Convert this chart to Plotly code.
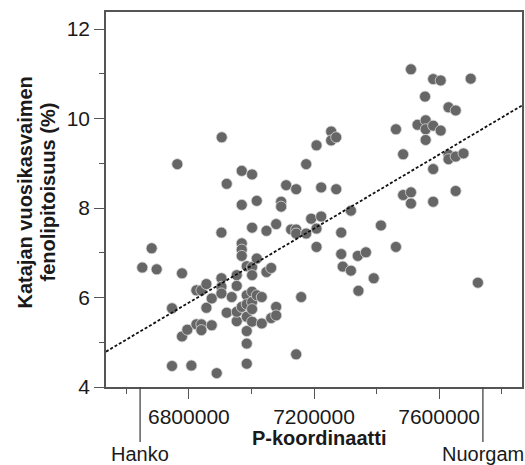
import plotly.graph_objects as go

# ---- data ----
p_coord = [
    6651000, 6681000, 6697000, 6763000, 6778000, 6746000, 6746000, 6778000, 6795000, 6808000,
    6824000, 6840000, 6824000, 6840000, 6840000, 6856000, 6856000, 6873000, 6873000, 6889000,
    6905000, 6904000, 6904000, 6904000, 6904000, 6921000, 6921000, 6937000, 6953000, 6953000,
    6953000, 6953000, 6969000, 6969000, 6969000, 6969000, 6969000, 6969000, 6985000, 6985000,
    6985000, 6985000, 6985000, 6985000, 6985000, 7002000, 7002000, 7002000, 7002000, 7002000,
    7002000, 7002000, 7002000, 7017000, 7017000, 7017000, 7033000, 7033000, 7048000, 7048000,
    7063000, 7063000, 7079000, 7079000, 7079000, 7095000, 7095000, 7111000, 7127000, 7143000,
    7143000, 7143000, 7143000, 7159000, 7175000, 7175000, 7191000, 7208000, 7208000, 7208000,
    7223000, 7223000, 7255000, 7255000, 7271000, 7271000, 7287000, 7287000, 7292000, 7318000,
    7318000, 7340000, 7342000, 7366000, 7391000, 7414000, 7462000, 7462000, 7485000, 7485000,
    7510000, 7510000, 7510000, 7531000, 7555000, 7557000, 7557000, 7557000, 7581000, 7581000,
    7581000, 7581000, 7605000, 7605000, 7630000, 7630000, 7630000, 7653000, 7653000, 7653000,
    7678000, 7701000, 7724000,
]
fenoli = [
    6.67, 7.10, 6.63, 8.98, 6.54, 5.76, 4.47, 5.13, 5.28, 4.48,
    6.16, 6.16, 5.40, 5.40, 5.27, 6.30, 5.77, 5.98, 5.38, 4.31,
    9.58, 7.45, 6.43, 6.24, 6.09, 8.54, 5.66, 6.01, 6.50, 6.26,
    5.47, 5.68, 8.83, 8.07, 7.21, 7.07, 6.93, 5.79, 6.70, 6.05,
    5.85, 5.57, 5.25, 4.97, 4.52, 8.75, 7.56, 6.68, 6.50, 6.13,
    5.90, 5.74, 5.46, 8.16, 6.87, 6.05, 6.01, 5.42, 7.49, 6.57,
    6.66, 5.54, 7.64, 5.79, 5.60, 8.14, 8.03, 8.51, 7.52, 8.42,
    7.52, 7.43, 4.73, 6.01, 7.43, 8.98, 7.76, 9.40, 7.54, 7.13,
    8.46, 7.81, 9.71, 9.51, 9.58, 8.42, 7.45, 6.97, 6.69, 7.94,
    6.60, 6.93, 6.15, 7.01, 6.43, 7.61, 9.76, 7.13, 9.20, 8.29,
    11.10, 8.35, 8.10, 9.86, 10.49, 9.96, 9.76, 9.52, 10.88, 9.84,
    8.87, 8.14, 10.85, 9.73, 10.25, 9.19, 9.09, 10.18, 9.15, 8.38,
    9.22, 10.89, 6.33,
]

trend_x = [6535000, 7865000]
trend_y = [4.79, 10.29]

landmark_names = ["Hanko", "Nuorgam"]
landmark_x = [6644000, 7740000]

x_major = [6800000, 7200000, 7600000]
x_minor = [6600000, 7000000, 7400000, 7800000]
y_major = [4, 6, 8, 10, 12]
y_minor = [5, 7, 9, 11]

x_title = "P-koordinaatti"
y_title_lines = ["Katajan vuosikasvaimen", "fenolipitoisuus (%)"]

FONT = "Liberation Sans, Arial, sans-serif"
TXT = "#1a1a1a"
FRAME = "#555555"
FS = 21

fig = go.Figure()
fig.add_trace(go.Scatter(
    x=p_coord, y=fenoli, mode="markers",
    marker=dict(size=11, color="#666666", line=dict(width=0.8, color="#d8d8d8")),
    showlegend=False, hoverinfo="skip",
))
fig.add_trace(go.Scatter(
    x=trend_x, y=trend_y, mode="lines",
    line=dict(color="#111111", width=1.8, dash="3px,2px"),
    showlegend=False, hoverinfo="skip",
))

fig.update_layout(
    width=525, height=465,
    margin=dict(l=106, r=1, t=12, b=78),
    paper_bgcolor="white", plot_bgcolor="white",
    font=dict(family=FONT, size=FS, color=TXT),
    showlegend=False,
)
fig.update_xaxes(
    range=[6535000, 7865000], showgrid=False, zeroline=False,
    showline=True, mirror=True, linecolor=FRAME, linewidth=1.5,
    tickmode="array", tickvals=x_major, ticktext=[str(v) for v in x_major],
    ticks="outside", ticklen=10, tickwidth=1.3, tickcolor=FRAME,
    tickfont=dict(family=FONT, size=FS, color=TXT),
    minor=dict(tickmode="array", tickvals=x_minor, ticks="outside", ticklen=5,
               tickwidth=1.3, tickcolor=FRAME, showgrid=False),
)
fig.update_yaxes(
    range=[4, 12.38], showgrid=False, zeroline=False,
    showline=True, mirror=True, linecolor=FRAME, linewidth=1.5,
    tickmode="array", tickvals=y_major, ticktext=[str(v) for v in y_major],
    ticks="outside", ticklen=10, tickwidth=1.3, tickcolor=FRAME,
    tickfont=dict(family=FONT, size=FS, color=TXT),
    minor=dict(tickmode="array", tickvals=y_minor, ticks="outside", ticklen=5,
               tickwidth=1.3, tickcolor=FRAME, showgrid=False),
)

# axis titles
fig.add_annotation(text="<b>%s</b>" % x_title, xref="paper", yref="paper",
                   x=0.5, y=0, xshift=5, yshift=-51, xanchor="center", yanchor="middle",
                   showarrow=False, font=dict(family=FONT, size=20, color=TXT))
for line, xs in zip(y_title_lines, [-82, -59]):
    fig.add_annotation(text="<b>%s</b>" % line, xref="paper", yref="paper",
                       x=0, y=0.5, xshift=xs, yshift=7, xanchor="center", yanchor="middle",
                       textangle=-90, showarrow=False,
                       font=dict(family=FONT, size=20, color=TXT))

# landmark markers below the axis
for name, lx in zip(landmark_names, landmark_x):
    fig.add_shape(type="line", xref="x", yref="paper", x0=lx, x1=lx, y0=0, y1=-0.1467,
                  line=dict(color="#444444", width=1.3))
    fig.add_annotation(text=name, xref="x", yref="paper", x=lx, y=0, yshift=-67,
                       xanchor="center", yanchor="middle", showarrow=False,
                       font=dict(family=FONT, size=20, color=TXT))

fig.write_html("out.html", config={"displayModeBar": False},
               post_script="document.body.style.margin='0';document.body.style.overflow='hidden';")
